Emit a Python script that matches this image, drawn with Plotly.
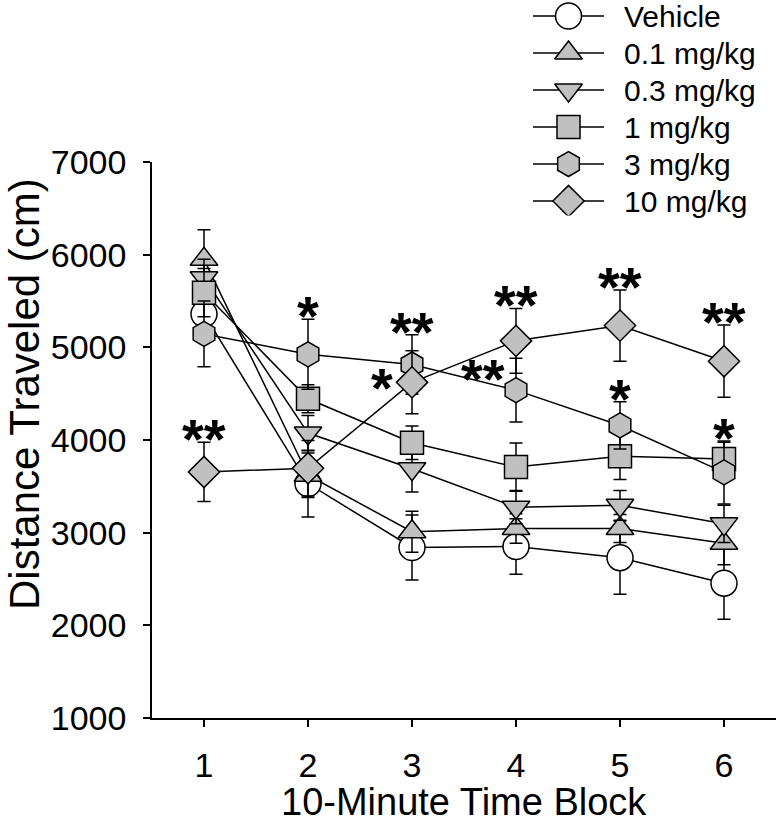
import plotly.graph_objects as go

# ---- data ----
blocks = [1, 2, 3, 4, 5, 6]
series_names = ["Vehicle", "0.1 mg/kg", "0.3 mg/kg", "1 mg/kg", "3 mg/kg", "10 mg/kg"]

vehicle = [5360, 3530, 2840, 2850, 2730, 2455]
vehicle_sem = [150, 360, 350, 300, 395, 390]
dose_01 = [5950, 3620, 3010, 3045, 3045, 2885]
dose_01_sem = [320, 240, 220, 160, 150, 230]
dose_03 = [5750, 4075, 3690, 3275, 3295, 3095]
dose_03_sem = [200, 190, 250, 180, 160, 200]
dose_1 = [5590, 4445, 3970, 3708, 3825, 3795]
dose_1_sem = [260, 150, 180, 260, 250, 180]
dose_3 = [5145, 4925, 4815, 4538, 4157, 3650]
dose_3_sem = [355, 377, 320, 345, 255, 340]
dose_10 = [3655, 3695, 4622, 5070, 5235, 4850]
dose_10_sem = [320, 300, 340, 350, 385, 390]

# significance marks: (series index, block, text, placement)
stars = [
    (5, 1, "**", "top"),
    (4, 2, "*", "top"),
    (4, 3, "**", "top"),
    (5, 3, "*", "left"),
    (5, 4, "**", "top"),
    (4, 4, "**", "upper-left"),
    (5, 5, "**", "top"),
    (4, 5, "*", "top"),
    (5, 6, "**", "top"),
    (4, 6, "*", "top"),
]

y_ticks = [1000, 2000, 3000, 4000, 5000, 6000, 7000]

# ---- styles ----
means = [vehicle, dose_01, dose_03, dose_1, dose_3, dose_10]
sems = [vehicle_sem, dose_01_sem, dose_03_sem, dose_1_sem, dose_3_sem, dose_10_sem]
symbols = ["circle", "triangle-up", "triangle-down", "square", "hexagon", "diamond"]
fills = ["white", "#c0c0c0", "#c0c0c0", "#c0c0c0", "#c0c0c0", "#c0c0c0"]
sizes = [26, 24, 24, 23, 25, 24]
FONT = "Liberation Sans, Arial, sans-serif"
LW = 1.5

fig = go.Figure()
for name, m, s, sym, fc, sz in zip(series_names, means, sems, symbols, fills, sizes):
    fig.add_trace(go.Scatter(
        x=blocks, y=m, name=name, mode="lines+markers",
        line=dict(color="black", width=LW),
        marker=dict(symbol=sym, size=sz, color=fc, line=dict(color="black", width=LW)),
        error_y=dict(type="data", array=s, visible=True, color="black", thickness=LW, width=6.5),
        showlegend=False, xaxis="x", yaxis="y",
    ))

# manual legend on an auxiliary axis (row index = series order)
for i, (name, sym, fc, sz) in enumerate(zip(series_names, symbols, fills, sizes)):
    fig.add_trace(go.Scatter(x=[0, 1], y=[i, i], mode="lines", line=dict(color="black", width=LW),
                             showlegend=False, xaxis="x2", yaxis="y2", hoverinfo="skip"))
    fig.add_trace(go.Scatter(x=[0.5], y=[i], mode="markers",
                             marker=dict(symbol=sym, size=sz, color=fc, line=dict(color="black", width=LW)),
                             showlegend=False, xaxis="x2", yaxis="y2", hoverinfo="skip"))
    fig.add_annotation(x=1.25, y=i, xref="x2", yref="y2", text=name, showarrow=False,
                       xanchor="left", yanchor="middle", font=dict(family=FONT, size=30, color="black"))

# significance annotations
STAR_FONT = dict(family=FONT, size=56, color="black", weight="bold")
for si, blk, txt, place in stars:
    idx = blocks.index(blk)
    m = means[si][idx]
    s = sems[si][idx]
    if place == "top":
        fig.add_annotation(x=blk, y=m + s, xref="x", yref="y", text=txt, showarrow=False,
                           xanchor="center", yanchor="bottom", yshift=-30, font=STAR_FONT)
    elif place == "left":
        fig.add_annotation(x=blk, y=m, xref="x", yref="y", text=txt, showarrow=False,
                           xanchor="right", yanchor="middle", xshift=-17, yshift=-5, font=STAR_FONT)
    else:
        fig.add_annotation(x=blk, y=m, xref="x", yref="y", text=txt, showarrow=False,
                           xanchor="right", yanchor="middle", xshift=-9, yshift=12, font=STAR_FONT)

PAPER_H = 836 - 118
PAPER_W = 778 - 152 - 2

# axis titles as annotations (paper coordinates)
fig.add_annotation(text="10-Minute Time Block", xref="paper", yref="paper",
                   x=0.5, y=(718 - 802) / PAPER_H, xanchor="center", yanchor="middle",
                   showarrow=False, font=dict(family=FONT, size=38, color="black"))
fig.add_annotation(text="Distance Traveled (cm)", xref="paper", yref="paper",
                   x=(25 - 152) / PAPER_W, y=(718 - 394) / PAPER_H, xanchor="center", yanchor="middle",
                   textangle=-90, showarrow=False, font=dict(family=FONT, size=42, color="black"))

fig.update_layout(
    width=778, height=836,
    margin=dict(l=152, r=2, t=0, b=118, autoexpand=False),
    paper_bgcolor="white", plot_bgcolor="white",
    font=dict(family=FONT, color="black"),
    xaxis=dict(
        range=[0.5, 6.5], tickvals=blocks, ticktext=[str(b) for b in blocks],
        showline=True, linecolor="black", linewidth=LW, ticks="outside", ticklen=7,
        tickcolor="black", tickwidth=LW, showgrid=False, zeroline=False, automargin=False,
        tickfont=dict(size=34), ticklabelstandoff=9, domain=[0, 1], anchor="y",
    ),
    yaxis=dict(
        range=[1000, 7000], tickvals=y_ticks, ticktext=[str(v) for v in y_ticks],
        showline=True, linecolor="black", linewidth=LW, ticks="outside", ticklen=7,
        tickcolor="black", tickwidth=LW, showgrid=False, zeroline=False, automargin=False,
        tickfont=dict(size=34), ticklabelstandoff=10,
        domain=[0, 556 / PAPER_H], anchor="x",
    ),
    xaxis2=dict(domain=[0.6, 1.0], range=[-0.0929, 3.422], visible=False, anchor="y2",
                fixedrange=True),
    yaxis2=dict(domain=[0.70, 1.0], range=[5.389, -0.4325], visible=False, anchor="x2",
                fixedrange=True),
)

fig.write_html("out.html", config={"displayModeBar": False},
               post_script="document.body.style.margin='0';")
